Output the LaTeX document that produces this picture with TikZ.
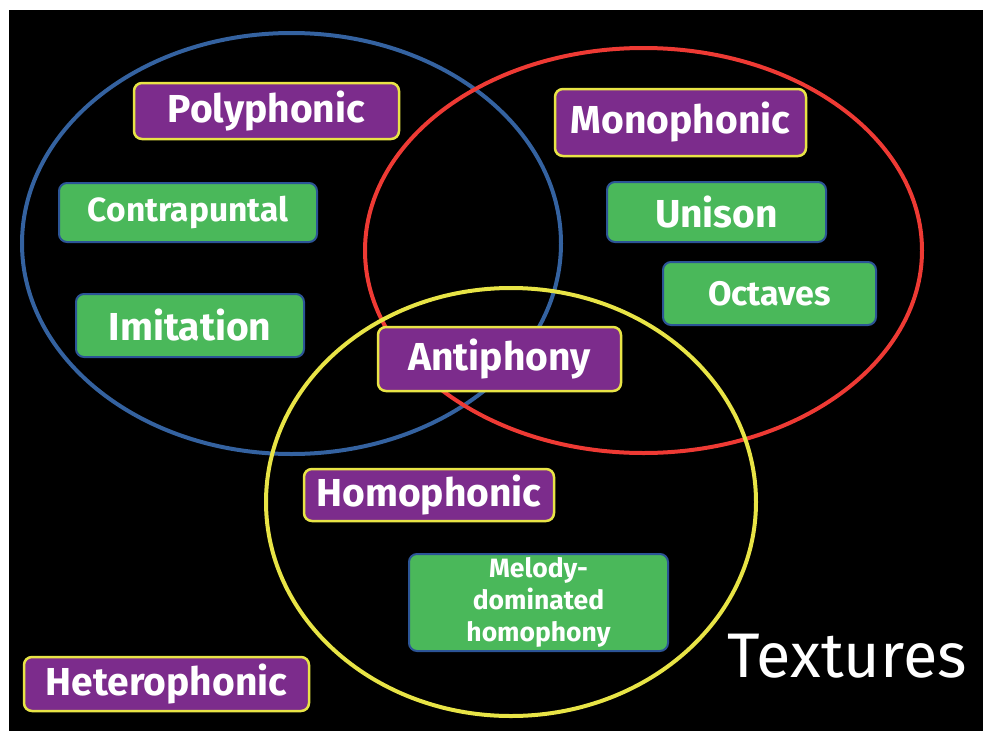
\documentclass[tikz,border=0pt]{standalone}
\usepackage{fontspec}
\setmainfont{Fira Sans}
\usetikzlibrary{positioning}
\definecolor{venblue}{RGB}{52,98,160}
\definecolor{venred}{RGB}{238,58,52}
\definecolor{venyellow}{RGB}{232,228,70}
\definecolor{boxpurple}{RGB}{124,44,140}
\definecolor{boxgreen}{RGB}{74,184,90}
\definecolor{boxrim}{RGB}{44,84,150}

\begin{document}
\begin{tikzpicture}[x=1pt,y=-1pt,
  purplebox/.style={draw=venyellow,fill=boxpurple,line width=2.5pt,rounded corners=8pt,
    text=white,inner sep=0pt,font=\bfseries\fontsize{39}{44}\selectfont},
  greenbox/.style={draw=boxrim,fill=boxgreen,line width=2pt,rounded corners=8pt,
    text=white,inner sep=0pt,font=\bfseries\fontsize{39}{44}\selectfont},
  ring/.style={line width=4pt}]
  \fill[white] (0,0) rectangle (983,731);
  \fill[black] (9,10) rectangle (983,731);
  % the three sets
  \draw[ring,venblue] (291.5,243.5) ellipse [x radius=269.5pt, y radius=210.5pt];
  \draw[ring,venred] (643.5,250.5) ellipse [x radius=278.5pt, y radius=202.5pt];
  \draw[ring,venyellow] (511,502) ellipse [x radius=245pt, y radius=214pt];
  % texture labels
  \node[purplebox,minimum width=265pt,minimum height=56pt] (poly) at (266.5,111) {Polyphonic};
  \node[purplebox,minimum width=251pt,minimum height=67pt] (mono) at (680.5,122.5) {Monophonic};
  \node[purplebox,minimum width=243pt,minimum height=64pt] (anti) at (499.5,359) {Antiphony};
  \node[purplebox,minimum width=250pt,minimum height=52pt] (homo) at (429,495) {Homophonic};
  \node[purplebox,minimum width=285pt,minimum height=54pt] (hetero) at (166.5,684) {Heterophonic};
  % kinds within each texture
  \node[greenbox,minimum width=258pt,minimum height=59pt,font=\bfseries\fontsize{33.5}{38}\selectfont] (contra) at (188,212.5) {Contrapuntal};
  \node[greenbox,minimum width=228pt,minimum height=63pt] (imit) at (190,325.5) {Imitation};
  \node[greenbox,minimum width=219pt,minimum height=60pt] (unison) at (716.5,212) {Unison};
  \node[greenbox,minimum width=213pt,minimum height=63pt,font=\bfseries\fontsize{34}{38}\selectfont] (octaves) at (769.5,293.5) {Octaves};
  \node[greenbox,minimum width=259pt,minimum height=97pt,align=center,
    font=\bfseries\fontsize{26.5}{32}\selectfont] (melody) at (538.5,602.5) {Melody-\\dominated\\homophony};
  \node[text=white,anchor=base east,inner sep=0pt,font=\fontsize{63}{70}\selectfont] (title) at (967,677) {Textures};
\end{tikzpicture}
\end{document}
